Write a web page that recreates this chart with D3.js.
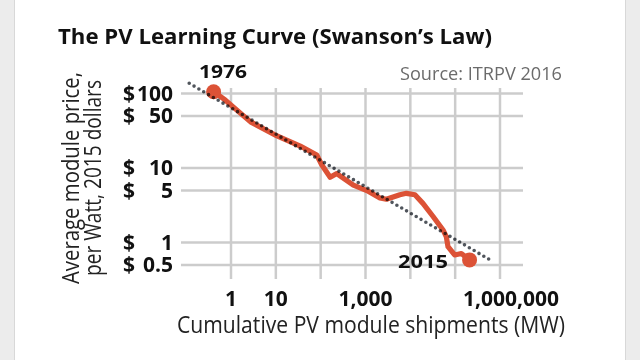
<!DOCTYPE html>
<html>
<head>
<meta charset="utf-8">
<script src="https://cdn.jsdelivr.net/npm/d3@7"></script>
<style>
  html, body { margin: 0; padding: 0; background: #ececec; }
  svg { display: block; }
  text { font-family: "Open Sans", "Noto Sans", sans-serif; }
</style>
</head>
<body>
<svg id="chart" width="640" height="360"></svg>
<script>
// ---- data ----
const cumulativeMW = [0.42, 0.77, 2.8, 10.9, 36, 84, 109, 167, 235, 550, 1100, 2150, 3000, 6000, 8400, 13000, 19600, 33000, 55000, 65000, 71000, 100000, 141000, 215000];
const modulePrice  = [104, 80, 41, 26.5, 19.4, 14.7, 10.8, 7.4, 8.3, 5.8, 4.9, 3.9, 3.75, 4.3, 4.5, 4.3, 3.3, 2.2, 1.45, 1.18, 0.865, 0.67, 0.7, 0.575];
const trendMW      = [0.12, 700000];
const trendPrice   = [135, 0.55];
const xTickValues  = [1, 10, 100, 1000, 10000, 100000, 1000000];
const xTickLabels  = ["1", "10", "", "1,000", "", "", "1,000,000"];
const yTickValues  = [100, 50, 10, 5, 1, 0.5];
const yTickLabels  = ["$100", "$ 50", "$ 10", "$ 5", "$ 1", "$ 0.5"];
const startLabel   = "1976";
const endLabel     = "2015";
const titleText    = "The PV Learning Curve (Swanson\u2019s Law)";
const sourceText   = "Source: ITRPV 2016";
const xTitle       = "Cumulative PV module shipments (MW)";
const yTitleLines  = ["Average module price,", "per Watt, 2015 dollars"];

const svg = d3.select("#chart");
const red = "#dc5236";

// card
svg.append("rect").attr("x", 14.5).attr("y", -2).attr("width", 611).attr("height", 370)
  .attr("fill", "#fff").attr("stroke", "#d8d8d8").attr("stroke-width", 1);

// scales
const x = d3.scaleLog().domain([1, 1e6]).range([230.5, 499.5]);
const y = d3.scaleLog().domain([1, 100]).range([242, 93]);
const gridLeft = 181, gridRight = 523, gridTop = 88, gridBottom = 279;

function fit(sel, w) {
  sel.attr("textLength", w).attr("lengthAdjust", "spacingAndGlyphs");
}

// vertical grid via axis
const xAxis = d3.axisBottom(x).tickValues(xTickValues)
  .tickFormat((d, i) => xTickLabels[i])
  .tickSize(-(gridBottom - gridTop)).tickPadding(12);
const gx = svg.append("g").attr("transform", `translate(0,${gridBottom})`).call(xAxis);
gx.select(".domain").remove();
gx.selectAll(".tick line").attr("stroke", "#cccccc").attr("stroke-width", 2.5);
gx.selectAll(".tick text").attr("fill", "#111").attr("font-size", 21).attr("font-weight", 700)
  .attr("dx", (d, i) => i === xTickValues.length - 1 ? 11 : 0)
  .style("font-family", '"Open Sans", sans-serif');

// horizontal grid via axis
const yAxis = d3.axisLeft(y).tickValues(yTickValues)
  .tickFormat((d, i) => yTickLabels[i])
  .tickSize(-(gridRight - gridLeft)).tickPadding(8);
const gy = svg.append("g").attr("transform", `translate(${gridLeft},0)`).call(yAxis);
gy.select(".domain").remove();
gy.selectAll(".tick line").attr("stroke", "#cccccc").attr("stroke-width", 2.5);
gy.selectAll(".tick text").each(function(d, i) {
  const t = d3.select(this);
  const lab = yTickLabels[i];
  t.text(null).attr("fill", "#111").attr("font-size", 21).attr("font-weight", 700)
    .style("font-family", '"Open Sans", sans-serif');
  t.append("tspan").attr("x", 123 - gridLeft).attr("dy", "0.34em").attr("text-anchor", "start").text("$");
  t.append("tspan").attr("x", -8).attr("text-anchor", "end").text(lab.replace("$", "").trim());
});

// red data line
const pts = cumulativeMW.map((m, i) => ({ m, p: modulePrice[i] }));
const line = d3.line().x(d => x(d.m)).y(d => y(d.p));
svg.append("path").datum(pts).attr("d", line)
  .attr("fill", "none").attr("stroke", red).attr("stroke-width", 5.2)
  .attr("stroke-linejoin", "round").attr("stroke-linecap", "round");
svg.selectAll("circle.end").data([pts[0], pts[pts.length - 1]]).enter()
  .append("circle").attr("class", "end")
  .attr("cx", d => x(d.m)).attr("cy", d => y(d.p)).attr("r", 7.5).attr("fill", red);

// trend line (dotted)
const tpts = trendMW.map((m, i) => ({ m, p: trendPrice[i] }));
svg.append("path").datum(tpts).attr("d", line)
  .attr("fill", "none").attr("stroke", "#50555c").attr("stroke-width", 3.6)
  .attr("stroke-dasharray", "0 5.6").attr("stroke-linecap", "round")
  .style("mix-blend-mode", "multiply");

// labels
svg.append("text").attr("x", 58).attr("y", 44).attr("font-size", 21).attr("font-weight", 700)
  .attr("fill", "#111").text(titleText).call(fit, 434);
svg.append("text").attr("x", 400).attr("y", 80).attr("font-size", 18)
  .attr("fill", "#6b6b6b").text(sourceText).call(fit, 162);
svg.append("text").attr("x", 199).attr("y", 78).attr("font-size", 18).attr("font-weight", 700)
  .attr("fill", "#111").text(startLabel).call(fit, 48);
svg.append("text").attr("x", 398).attr("y", 268).attr("font-size", 18).attr("font-weight", 700)
  .attr("fill", "#111").text(endLabel).call(fit, 50);
svg.append("text").attr("x", 177).attr("y", 333).attr("font-size", 23)
  .attr("fill", "#222").text(xTitle).call(fit, 388);

const yt = svg.append("g").attr("transform", "translate(0,178) rotate(-90)");
yt.append("text").attr("x", 0).attr("y", 79).attr("text-anchor", "middle")
  .attr("font-size", 23).attr("fill", "#222").text(yTitleLines[0]).call(fit, 212);
yt.append("text").attr("x", 0).attr("y", 101).attr("text-anchor", "middle")
  .attr("font-size", 23).attr("fill", "#222").text(yTitleLines[1]).call(fit, 196);
</script>
</body>
</html>
